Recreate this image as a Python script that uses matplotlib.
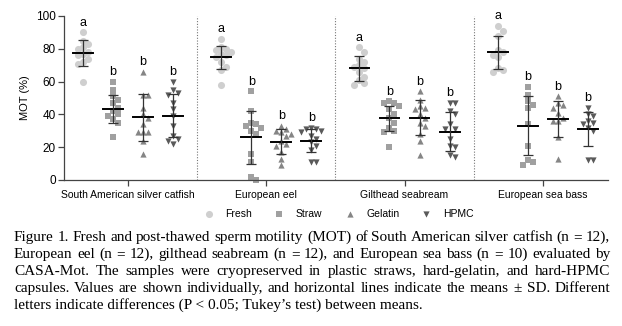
import matplotlib.pyplot as plt
import numpy as np

# ---- data ----
species = ["South American silver catfish", "European eel", "Gilthead seabream", "European sea bass"]
treatments = ["Fresh", "Straw", "Gelatin", "HPMC"]

catfish_fresh = [90, 85, 83, 81, 80, 78, 77, 76, 74, 72, 71, 60]
catfish_straw = [60, 55, 51, 49, 47, 44, 42, 40, 39, 37, 35, 26]
catfish_gelatin = [66, 52, 52, 44, 40, 38, 34, 29, 29, 29, 24, 16]
catfish_hpmc = [60, 55, 53, 52, 47, 43, 39, 33, 27, 25, 24, 22]

eel_fresh = [86, 81, 80, 79, 78, 77, 76, 75, 72, 69, 67, 58]
eel_straw = [54, 42, 35, 34, 33, 32, 30, 28, 16, 11, 2, 0]
eel_gelatin = [33, 31, 30, 29, 28, 27, 24, 22, 21, 17, 13, 9]
eel_hpmc = [32, 31, 31, 30, 29, 27, 25, 23, 21, 18, 11, 11]

bream_fresh = [81, 78, 74, 72, 70, 69, 68, 66, 63, 61, 59, 58]
bream_straw = [48, 47, 47, 45, 43, 40, 38, 35, 32, 30, 29, 20]
bream_gelatin = [54, 49, 45, 44, 43, 40, 38, 35, 33, 28, 24, 15]
bream_hpmc = [47, 47, 42, 40, 34, 31, 31, 25, 21, 20, 15, 14]

bass_fresh = [94, 91, 88, 79, 78, 76, 75, 68, 67, 66]
bass_straw = [57, 52, 48, 46, 44, 34, 21, 12, 11, 9]
bass_gelatin = [51, 47, 46, 44, 41, 38, 36, 36, 26, 13]
bass_hpmc = [44, 40, 39, 36, 35, 34, 32, 30, 12, 12]

# means and SD as drawn
means = [[77.3, 43.3, 38.2, 39.2],
         [74.8, 26.0, 23.4, 24.0],
         [68.1, 37.6, 38.0, 29.5],
         [77.8, 33.1, 37.2, 30.9]]
sds = [[7.8, 8.8, 14.5, 13.0],
       [7.0, 16.3, 7.8, 7.0],
       [7.8, 7.5, 10.7, 11.9],
       [9.9, 18.0, 11.0, 10.3]]
letters = ["a", "b", "b", "b"]

groups = [
    [catfish_fresh, catfish_straw, catfish_gelatin, catfish_hpmc],
    [eel_fresh, eel_straw, eel_gelatin, eel_hpmc],
    [bream_fresh, bream_straw, bream_gelatin, bream_hpmc],
    [bass_fresh, bass_straw, bass_gelatin, bass_hpmc],
]

caption = [
    "Figure 1. Fresh and post-thawed sperm motility (MOT) of South American silver catfish (n = 12),",
    "European eel (n = 12), gilthead seabream (n = 12), and European sea bass (n = 10) evaluated by",
    "CASA-Mot. The samples were cryopreserved in plastic straws, hard-gelatin, and hard-HPMC",
    "capsules. Values are shown individually, and horizontal lines indicate the means \u00b1 SD. Different",
    "letters indicate differences (P < 0.05; Tukey\u2019s test) between means.",
]

# ---- style ----
colors = ["#cfcfcf", "#a0a0a0", "#858585", "#5a5a5a"]
markers = ["o", "s", "^", "v"]
sizes = [26, 20, 20, 20]
GAP = 4.6  # distance between species groups, in slot units

plt.rcParams["font.family"] = ["Liberation Sans", "DejaVu Sans"]

fig = plt.figure(figsize=(6.22, 3.26), dpi=100)
ax = fig.add_axes([64 / 622, 1 - 180 / 326, 544 / 622, 164 / 326])
ax.set_xlim(-0.63, 3 * GAP + 3.67)
ax.set_ylim(0, 100)

px_x = 544 / (3 * GAP + 3.67 + 0.63)
px_y = 164 / 100


def swarm(vals, diam=5.0, maxoff=11.0):
    # simple beeswarm, offsets limited to +-maxoff px; returns slot units
    order = np.argsort(vals)[::-1]
    placed = []
    offs = np.zeros(len(vals))
    cands = [0.0]
    step = diam
    while step <= maxoff:
        cands += [step, -step]
        step += diam
    for i in order:
        y = vals[i] * px_y
        best, best_d = 0.0, -1
        for c in cands:
            d = min([np.hypot(c - px, y - py) for px, py in placed] or [99])
            if d >= diam:
                best = c
                break
            if d > best_d:
                best, best_d = c, d
        placed.append((best, y))
        offs[i] = best / px_x
    return offs


for g, grp in enumerate(groups):
    for k, vals in enumerate(grp):
        x0 = g * GAP + k
        vals = np.array(vals, dtype=float)
        ax.scatter(x0 + swarm(vals), vals, s=sizes[k], marker=markers[k], color=colors[k],
                   linewidths=0, zorder=2, clip_on=False)
        m, s = means[g][k], sds[g][k]
        ax.plot([x0 - 0.33, x0 + 0.33], [m, m], color="black", lw=1.4, zorder=3)
        ax.errorbar(x0, m, yerr=s, fmt="none", ecolor="#333333", elinewidth=0.9,
                    capsize=3.5, capthick=0.9, zorder=3)
        ax.text(x0, vals.max() + 2.2, letters[k], ha="center", va="bottom", fontsize=9)
    if g < 3:
        ax.axvline(g * GAP + 3.8, color="#777777", lw=0.8, ls=(0, (1, 1.5)), zorder=1)

# legend handles
for k, t in enumerate(treatments):
    ax.scatter([], [], s=sizes[k], marker=markers[k], color=colors[k], linewidths=0, label=t)
ax.legend(loc="upper center", bbox_to_anchor=(0.5, -0.12), ncol=4, frameon=False,
          fontsize=7.5, handletextpad=0.6, columnspacing=1.6, markerscale=1.0)

ax.set_xticks([g * GAP + 1.5 for g in range(4)])
ax.set_xticklabels(species, fontsize=7.5)
ax.set_yticks(range(0, 101, 20))
ax.tick_params(axis="y", labelsize=8.5, length=4, width=0.9, color="#444444", pad=2)
ax.tick_params(axis="x", length=4, width=0.9, color="#444444", pad=3)
ax.set_ylabel("MOT (%)", fontsize=8, labelpad=4)
for sp in ["top", "right"]:
    ax.spines[sp].set_visible(False)
for sp in ["left", "bottom"]:
    ax.spines[sp].set_color("#444444")
    ax.spines[sp].set_linewidth(0.9)

# ---- caption, justified ----
fig.canvas.draw()
renderer = fig.canvas.get_renderer()
left_px, right_px = 14, 610
cap_size = 11
for i, line in enumerate(caption):
    y = 1 - (241 + 17 * i) / 326
    if i == len(caption) - 1:
        fig.text(left_px / 622, y, line, family="Liberation Serif", fontsize=cap_size, va="baseline")
        continue
    words = line.split(" ")
    objs = [fig.text(0, y, w, family="Liberation Serif", fontsize=cap_size, va="baseline") for w in words]
    widths = [o.get_window_extent(renderer).width for o in objs]
    gap = (right_px - left_px - sum(widths)) / (len(words) - 1)
    x = left_px
    for o, w in zip(objs, widths):
        o.set_x(x / 622)
        x += w + gap

fig.savefig("out.png", dpi=100)
